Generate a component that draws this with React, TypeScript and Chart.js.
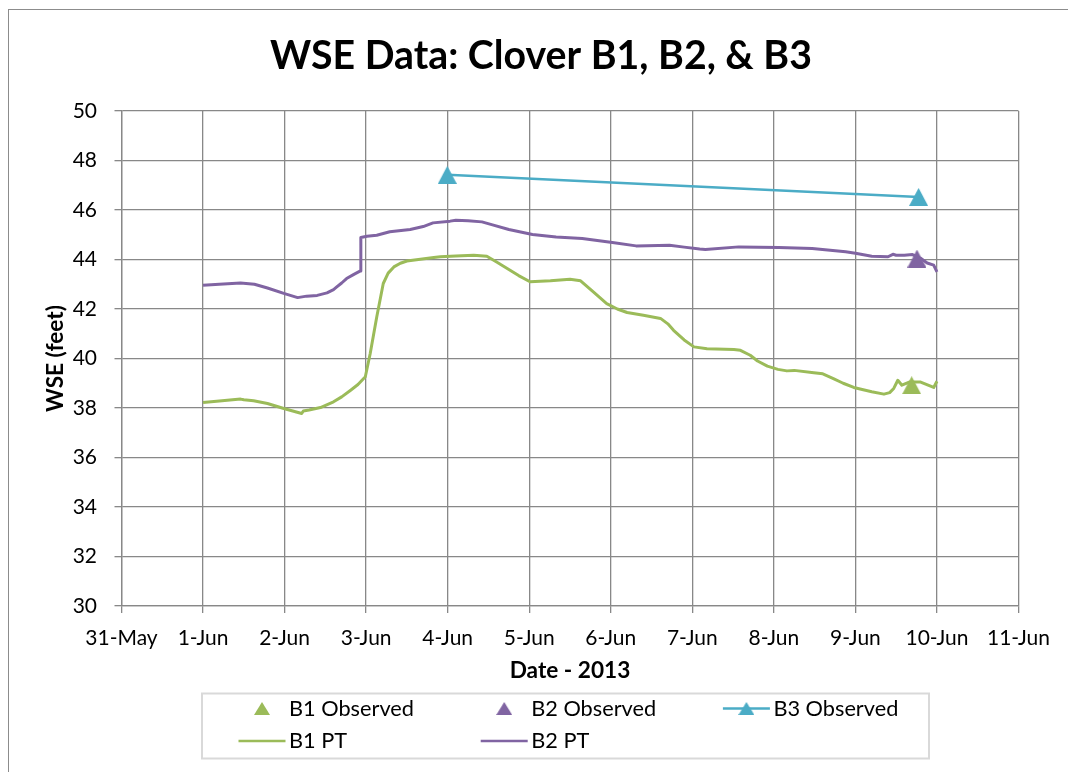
import React, { useEffect, useRef } from 'react';
import { Chart, registerables } from 'chart.js';

Chart.register(...registerables);

// ---- data ----
const tickLabels = ['31-May', '1-Jun', '2-Jun', '3-Jun', '4-Jun', '5-Jun', '6-Jun', '7-Jun', '8-Jun', '9-Jun', '10-Jun', '11-Jun'];
const seriesLabels = ['B1 Observed', 'B2 Observed', 'B3 Observed', 'B1 PT', 'B2 PT'];
const titleText = 'WSE Data: Clover B1, B2, & B3';
const xTitleText = 'Date - 2013';
const yTitleText = 'WSE (feet)';
const yMin = 30;
const yMax = 50;
const yStep = 2;

// days counted from 31-May (0) ; 1-Jun = 1 ...
const b1ObsDays = [9.69];
const b1ObsValues = [38.92];
const b2ObsDays = [9.755];
const b2ObsValues = [44.04];
const b3ObsDays = [3.995, 9.775];
const b3ObsValues = [47.42, 46.53];

const b1PtDays = [1.0, 1.2, 1.46, 1.5, 1.62, 1.79, 1.99, 2.1, 2.21, 2.23, 2.3, 2.44, 2.6, 2.7, 2.81, 2.9, 2.99, 3.05, 3.13, 3.21, 3.27, 3.34, 3.42, 3.5, 3.83, 3.91, 4.1, 4.32, 4.48, 4.6, 4.73, 4.87, 5.01, 5.26, 5.5, 5.63, 5.8, 5.95, 6.08, 6.2, 6.4, 6.61, 6.7, 6.77, 6.9, 7.02, 7.18, 7.51, 7.59, 7.71, 7.8, 7.92, 8.05, 8.16, 8.25, 8.49, 8.6, 8.73, 8.85, 8.98, 9.2, 9.35, 9.42, 9.47, 9.52, 9.57, 9.66, 9.8, 9.96, 10.0];
const b1PtValues = [38.22, 38.28, 38.36, 38.33, 38.29, 38.18, 37.98, 37.88, 37.78, 37.88, 37.92, 38.02, 38.25, 38.45, 38.72, 38.95, 39.26, 40.2, 41.68, 43.03, 43.45, 43.7, 43.85, 43.94, 44.08, 44.11, 44.14, 44.17, 44.13, 43.9, 43.64, 43.35, 43.1, 43.14, 43.2, 43.14, 42.65, 42.22, 42.0, 41.86, 41.75, 41.62, 41.4, 41.14, 40.75, 40.47, 40.39, 40.36, 40.33, 40.13, 39.9, 39.69, 39.56, 39.5, 39.52, 39.42, 39.38, 39.19, 39.0, 38.83, 38.66, 38.56, 38.62, 38.79, 39.12, 38.92, 39.05, 39.05, 38.83, 39.08];

const b2PtDays = [1.0, 1.2, 1.46, 1.63, 1.79, 1.99, 2.16, 2.27, 2.4, 2.52, 2.6, 2.64, 2.7, 2.76, 2.85, 2.93, 2.935, 3.01, 3.13, 3.29, 3.54, 3.7, 3.82, 4.03, 4.1, 4.25, 4.42, 4.55, 4.75, 5.04, 5.33, 5.65, 6.02, 6.31, 6.72, 6.9, 7.09, 7.16, 7.57, 8.06, 8.47, 8.88, 9.0, 9.2, 9.4, 9.46, 9.5, 9.6, 9.7, 9.8, 9.88, 9.96, 10.0];
const b2PtValues = [42.96, 43.0, 43.05, 43.0, 42.85, 42.63, 42.46, 42.52, 42.55, 42.65, 42.78, 42.89, 43.05, 43.23, 43.4, 43.54, 44.89, 44.94, 44.98, 45.12, 45.21, 45.33, 45.48, 45.55, 45.59, 45.57, 45.52, 45.4, 45.21, 45.01, 44.91, 44.85, 44.69, 44.55, 44.58, 44.5, 44.42, 44.4, 44.51, 44.48, 44.44, 44.31, 44.25, 44.13, 44.11, 44.21, 44.17, 44.17, 44.2, 44.05, 43.86, 43.77, 43.5];

const GREEN = '#9BBB59';
const PURPLE = '#8064A2';
const BLUE = '#4BACC6';
const GRID = '#888888';
const FONT = 'Lato';

function pts(xs: number[], ys: number[]) {
  return xs.map((x, i) => ({ x, y: ys[i] }));
}

function makeTriangle(color: string, w: number, h: number) {
  const c = document.createElement('canvas');
  c.width = w;
  c.height = h;
  const g = c.getContext('2d')!;
  g.fillStyle = color;
  g.beginPath();
  g.moveTo(w / 2, 0);
  g.lineTo(w, h);
  g.lineTo(0, h);
  g.closePath();
  g.fill();
  return c;
}

function fitSize(text: string, weight: string, target: number) {
  const c = document.createElement('canvas');
  const g = c.getContext('2d')!;
  g.font = `${weight} 100px ${FONT}`;
  const w = g.measureText(text).width;
  return (100 * target) / w;
}

export default function App() {
  const ref = useRef<HTMLCanvasElement | null>(null);

  useEffect(() => {
    if (!ref.current) return;
    const titleSize = fitSize(titleText, 'bold', 542);
    const tickSize = fitSize('10-Jun', 'normal', 63);
    const legendSize = fitSize('B1 Observed', 'normal', 125);
    const axisTitleSize = fitSize(yTitleText, 'bold', 107);

    const triBig = {
      g: makeTriangle(GREEN, 19, 18),
      p: makeTriangle(PURPLE, 19, 18),
      b: makeTriangle(BLUE, 19, 18),
    };
    const triSmall: Record<string, HTMLCanvasElement> = {
      [GREEN]: makeTriangle(GREEN, 16, 13),
      [PURPLE]: makeTriangle(PURPLE, 16, 13),
      [BLUE]: makeTriangle(BLUE, 16, 13),
    };

    const titlePadTop = 56.5 - 0.6 * titleSize;
    const titlePadBottom = 111 - titlePadTop - 1.2 * titleSize;

    const framePlugin = {
      id: 'frame',
      beforeDraw(chart: any) {
        const ctx = chart.ctx;
        ctx.save();
        ctx.fillStyle = '#ffffff';
        ctx.fillRect(0, 0, chart.width, chart.height);
        ctx.strokeStyle = '#8c8c8c';
        ctx.lineWidth = 1;
        ctx.strokeRect(8.5, 9.5, chart.width + 20, chart.height + 20);
        ctx.restore();
      },
    };

    const legendPlugin = {
      id: 'gridLegend',
      afterDraw(chart: any) {
        const ctx = chart.ctx;
        ctx.save();
        ctx.strokeStyle = '#d9d9d9';
        ctx.lineWidth = 2;
        ctx.strokeRect(202, 693.5, 727, 65);
        ctx.font = `normal ${legendSize}px ${FONT}`;
        ctx.textBaseline = 'middle';
        ctx.textAlign = 'left';
        chart.data.datasets.forEach((ds: any, i: number) => {
          const col = i % 3;
          const row = Math.floor(i / 3);
          const x0 = 238.5 + col * 242.2;
          const x1 = x0 + 47;
          const cy = row === 0 ? 708.5 : 741;
          if (ds.showLine !== false) {
            ctx.strokeStyle = ds.borderColor;
            ctx.lineWidth = 2.5;
            ctx.beginPath();
            ctx.moveTo(x0, cy);
            ctx.lineTo(x1, cy);
            ctx.stroke();
          }
          if (ds.pointRadius > 0) {
            const t = triSmall[ds.backgroundColor];
            ctx.drawImage(t, (x0 + x1) / 2 - t.width / 2, cy - t.height / 2);
          }
          ctx.fillStyle = '#000000';
          ctx.fillText(ds.label, x1 + 3.5, cy);
        });
        ctx.restore();
      },
    };

    const chart = new Chart(ref.current, {
      type: 'line',
      data: {
        datasets: [
          {
            label: seriesLabels[0],
            data: pts(b1ObsDays, b1ObsValues),
            showLine: false,
            borderColor: GREEN,
            backgroundColor: GREEN,
            pointStyle: triBig.g as any,
            pointRadius: 10,
          },
          {
            label: seriesLabels[1],
            data: pts(b2ObsDays, b2ObsValues),
            showLine: false,
            borderColor: PURPLE,
            backgroundColor: PURPLE,
            pointStyle: triBig.p as any,
            pointRadius: 10,
          },
          {
            label: seriesLabels[2],
            data: pts(b3ObsDays, b3ObsValues),
            borderColor: BLUE,
            backgroundColor: BLUE,
            borderWidth: 2.5,
            pointStyle: triBig.b as any,
            pointRadius: 10,
            tension: 0,
          },
          {
            label: seriesLabels[3],
            data: pts(b1PtDays, b1PtValues),
            borderColor: GREEN,
            backgroundColor: GREEN,
            borderWidth: 3,
            pointRadius: 0,
            tension: 0,
            borderJoinStyle: 'round',
          },
          {
            label: seriesLabels[4],
            data: pts(b2PtDays, b2PtValues),
            borderColor: PURPLE,
            backgroundColor: PURPLE,
            borderWidth: 3,
            pointRadius: 0,
            tension: 0,
            borderJoinStyle: 'round',
          },
        ] as any,
      },
      options: {
        responsive: false,
        animation: false,
        devicePixelRatio: 1,
        events: [],
        layout: { padding: { top: 0, left: 63.5, right: 49.5, bottom: 86 } },
        plugins: {
          legend: { display: false },
          tooltip: { enabled: false },
          title: {
            display: true,
            text: titleText,
            color: '#000000',
            font: { family: FONT, weight: 'bold', size: titleSize, lineHeight: 1.2 },
            padding: { top: titlePadTop, bottom: titlePadBottom },
          },
        },
        scales: {
          x: {
            type: 'linear',
            min: 0,
            max: tickLabels.length - 1,
            afterFit: (s: any) => {
              s.height = 80;
            },
            ticks: {
              stepSize: 1,
              autoSkip: false,
              maxRotation: 0,
              padding: 13,
              color: '#000000',
              font: { family: FONT, size: tickSize, lineHeight: 1.2 },
              callback: (v: any) => tickLabels[Math.round(Number(v))] ?? '',
            },
            grid: { color: GRID, lineWidth: 1.3, tickLength: 7 },
            border: { color: GRID, width: 1.3 },
            title: {
              display: true,
              text: xTitleText,
              color: '#000000',
              font: { family: FONT, weight: 'bold', size: axisTitleSize, lineHeight: 1.2 },
              padding: { top: 0, bottom: 2 },
            },
          },
          y: {
            type: 'linear',
            min: yMin,
            max: yMax,
            afterFit: (s: any) => {
              s.width = 58;
            },
            ticks: {
              stepSize: yStep,
              padding: 17.5,
              color: '#000000',
              font: { family: FONT, size: tickSize, lineHeight: 1.2 },
            },
            grid: { color: GRID, lineWidth: 1.3, tickLength: 7 },
            border: { color: GRID, width: 1.3 },
            title: {
              display: true,
              text: yTitleText,
              color: '#000000',
              font: { family: FONT, weight: 'bold', size: axisTitleSize, lineHeight: 1.2 },
              padding: { top: -21.1, bottom: 0 },
            },
          },
        },
      } as any,
      plugins: [framePlugin, legendPlugin],
    });

    return () => {
      chart.destroy();
    };
  }, []);

  return (
    <canvas
      ref={ref}
      width={1068}
      height={772}
      style={{ position: 'absolute', left: 0, top: 0, display: 'block' }}
    />
  );
}
